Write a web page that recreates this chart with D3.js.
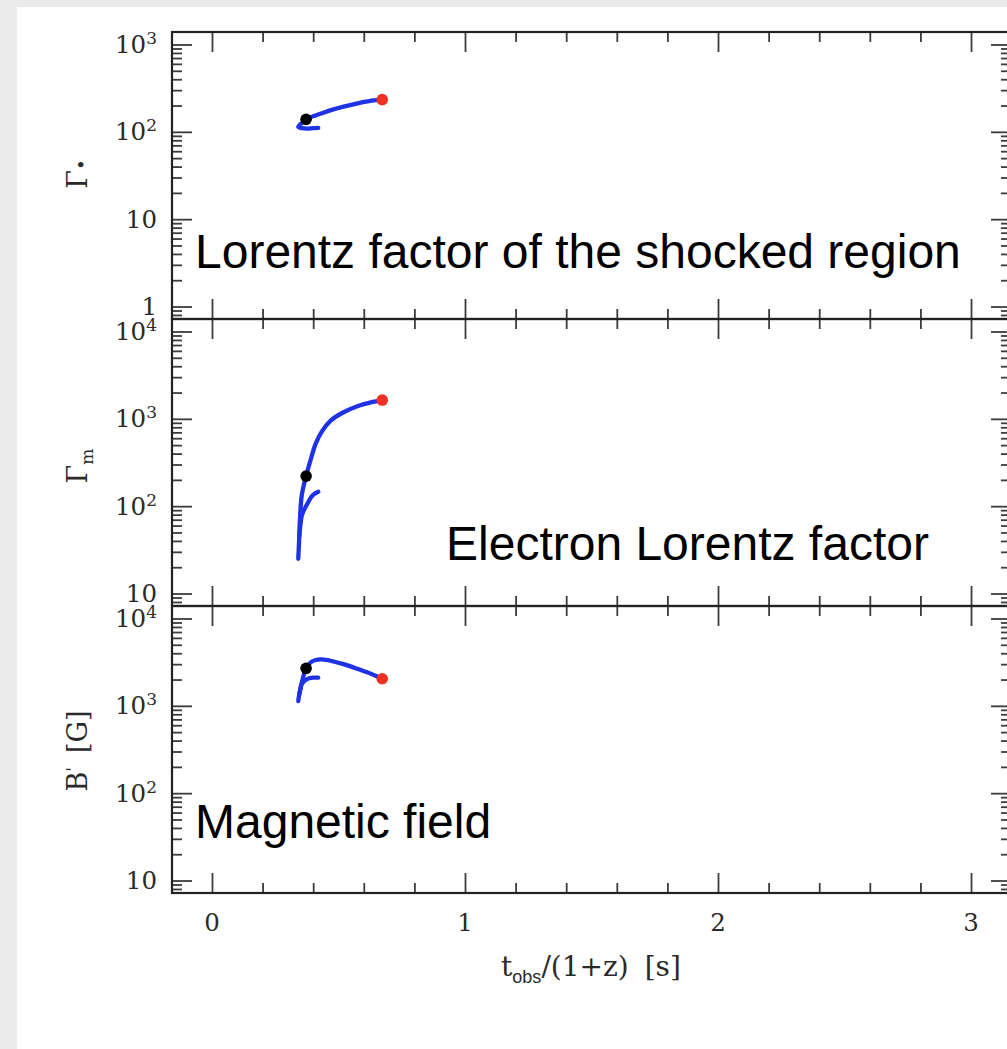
<!DOCTYPE html>
<html>
<head>
<meta charset="utf-8">
<script src="https://cdn.jsdelivr.net/npm/d3@7"></script>
<style>
  html, body { margin: 0; padding: 0; background: #ebebeb; }
  svg { display: block; }
</style>
</head>
<body>
<svg id="chart" width="1007" height="1049"></svg>
<script>
// Observer time t_obs/(1+z) in seconds, shared by the three panels
const tMain = [0.341, 0.344, 0.348, 0.355, 0.372, 0.39, 0.41, 0.434, 0.47, 0.52, 0.58, 0.63, 0.673];
const tHook = [0.345, 0.350, 0.356, 0.374, 0.399, 0.420];

// Lorentz factor of the shocked region
const gammaMain = [114, 117, 121, 126, 139, 147, 154, 163, 177, 194, 213, 227, 234];
const gammaHook = [113, 111, 110, 109, 110, 111];

// Electron Lorentz factor
const gammaMMain = [25, 38.5, 73, 134, 221, 340, 520, 714, 960, 1190, 1415, 1550, 1640];
const gammaMHook = [45, 62, 80, 103, 134, 146];

// Comoving magnetic field [G]
const bMain = [1133, 1300, 1475, 1850, 2685, 3150, 3350, 3405, 3280, 3000, 2620, 2320, 2042];
const bHook = [1350, 1600, 1800, 2007, 2099, 2099];

// index of the black marker along the main branch (last point gets the red one)
const startIndex = 4;

// x ticks
const xMajor = [0, 1, 2, 3];
const xMinor = [0.2, 0.4, 0.6, 0.8, 1.2, 1.4, 1.6, 1.8, 2.2, 2.4, 2.6, 2.8];
const xTickLabels = ["0", "1", "2", "3"];

// y decades per panel and their labels ("base^exp")
const topDecades = [1, 10, 100, 1000];
const topLabels = ["1", "10", "10^2", "10^3"];
const midDecades = [10, 100, 1000, 10000];
const midLabels = ["10", "10^2", "10^3", "10^4"];
const botDecades = [10, 100, 1000, 10000];
const botLabels = ["10", "10^2", "10^3", "10^4"];

const panelNotes = ["Lorentz factor of the shocked region", "Electron Lorentz factor", "Magnetic field"];

const panels = [
  { decades: topDecades, labels: topLabels, main: gammaMain, hook: gammaHook,
    note: panelNotes[0], noteX: 195, noteY: 268 },
  { decades: midDecades, labels: midLabels, main: gammaMMain, hook: gammaMHook,
    note: panelNotes[1], noteX: 446, noteY: 560 },
  { decades: botDecades, labels: botLabels, main: bMain, hook: bHook,
    note: panelNotes[2], noteX: 195, noteY: 838 }
];

// ---- layout ----
const L = 172, R = 1011, T = 32, PH = 287;
const PAD = 0.143;            // decades of padding above/below the labelled range
const TICK_MAJ = 20, TICK_MIN = 10;
const tickColor = "#3c3c3c";
const serif = "'DejaVu Serif', 'Liberation Serif', serif";
const sans = "'Liberation Sans', Arial, Helvetica, sans-serif";
const lineColor = "#1f33e6";

const svg = d3.select("#chart");
svg.append("rect").attr("x", 17).attr("y", 7).attr("width", 990).attr("height", 1042).attr("fill", "#fff");

const x = d3.scaleLinear().domain([-0.158, 3.158]).range([L, R]);

function styleTicks(g) {
  g.select(".domain").remove();
  g.selectAll(".tick line").attr("stroke", tickColor).attr("stroke-width", 1.8);
  g.selectAll(".tick text").remove();
}

function addTickLabel(parent, str, xPos, yPos, anchor) {
  const parts = str.split("^");
  const t = parent.append("text")
    .attr("x", xPos).attr("y", yPos)
    .attr("text-anchor", anchor)
    .attr("font-family", serif).attr("font-size", 24.5).attr("fill", "#2a2a2a");
  t.append("tspan").text(parts[0]);
  if (parts[1]) {
    t.append("tspan").attr("font-size", 17).attr("dy", -9).text(parts[1]);
  }
  return t;
}

panels.forEach((p, i) => {
  const y0 = T + i * PH, y1 = y0 + PH;
  const lo = Math.log10(p.decades[0]) - PAD;
  const hi = Math.log10(p.decades[p.decades.length - 1]) + PAD;
  const y = d3.scaleLog().domain([10 ** lo, 10 ** hi]).range([y1, y0]);

  const isDecade = v => Math.abs(Math.log10(v) - Math.round(Math.log10(v))) < 1e-9;
  const yMinor = y.ticks().filter(v => !isDecade(v));

  const g = svg.append("g");

  // left and right ticks (pointing inwards)
  g.append("g").attr("transform", `translate(${L},0)`)
    .call(d3.axisRight(y).tickValues(yMinor).tickSize(TICK_MIN)).call(styleTicks);
  g.append("g").attr("transform", `translate(${L},0)`)
    .call(d3.axisRight(y).tickValues(p.decades).tickSize(TICK_MAJ)).call(styleTicks);
  g.append("g").attr("transform", `translate(${R},0)`)
    .call(d3.axisLeft(y).tickValues(yMinor).tickSize(TICK_MIN)).call(styleTicks);
  g.append("g").attr("transform", `translate(${R},0)`)
    .call(d3.axisLeft(y).tickValues(p.decades).tickSize(TICK_MAJ)).call(styleTicks);

  // top and bottom ticks of this panel
  g.append("g").attr("transform", `translate(0,${y0})`)
    .call(d3.axisBottom(x).tickValues(xMinor).tickSize(TICK_MIN)).call(styleTicks);
  g.append("g").attr("transform", `translate(0,${y0})`)
    .call(d3.axisBottom(x).tickValues(xMajor).tickSize(TICK_MAJ)).call(styleTicks);
  g.append("g").attr("transform", `translate(0,${y1})`)
    .call(d3.axisTop(x).tickValues(xMinor).tickSize(TICK_MIN)).call(styleTicks);
  g.append("g").attr("transform", `translate(0,${y1})`)
    .call(d3.axisTop(x).tickValues(xMajor).tickSize(TICK_MAJ)).call(styleTicks);

  // frame
  g.append("rect").attr("x", L).attr("y", y0).attr("width", R - L).attr("height", PH)
    .attr("fill", "none").attr("stroke", "#222").attr("stroke-width", 2.2);

  // y tick labels
  p.decades.forEach((v, k) => addTickLabel(g, p.labels[k], 157, y(v) + 8.5, "end"));

  // curves
  const line = d3.line().x(d => x(d[0])).y(d => y(d[1])).curve(d3.curveCatmullRom.alpha(0.5));
  const mainPts = tMain.map((t, k) => [t, p.main[k]]);
  const hookPts = tHook.map((t, k) => [t, p.hook[k]]);
  [mainPts, hookPts].forEach(pts => {
    g.append("path").datum(pts).attr("d", line)
      .attr("fill", "none").attr("stroke", lineColor).attr("stroke-width", 4.3)
      .attr("stroke-linecap", "round").attr("stroke-linejoin", "round");
  });

  // start and end markers
  const markers = [
    { t: tMain[startIndex], v: p.main[startIndex], c: "#000" },
    { t: tMain[tMain.length - 1], v: p.main[p.main.length - 1], c: "#ee3124" }
  ];
  g.selectAll("circle.marker").data(markers).join("circle")
    .attr("class", "marker")
    .attr("cx", d => x(d.t)).attr("cy", d => y(d.v)).attr("r", 5.8).attr("fill", d => d.c);

  // panel annotation
  g.append("text").attr("x", p.noteX).attr("y", p.noteY)
    .attr("font-family", sans).attr("font-size", 48).attr("fill", "#000")
    .text(p.note);
});

// x tick labels
xMajor.forEach((v, k) => {
  svg.append("text").attr("x", x(v)).attr("y", 931).attr("text-anchor", "middle")
    .attr("font-family", serif).attr("font-size", 24.5).attr("fill", "#2a2a2a")
    .text(xTickLabels[k]);
});

// x axis title: t_obs/(1+z) [s]
const xt = svg.append("text").attr("x", 591).attr("y", 976).attr("text-anchor", "middle")
  .attr("font-family", serif).attr("font-size", 28).attr("fill", "#2a2a2a");
xt.append("tspan").text("t");
xt.append("tspan").attr("font-family", sans).attr("font-size", 18).attr("dy", 7).text("obs");
xt.append("tspan").attr("dy", -7).text("/(1+z)");
xt.append("tspan").attr("dx", 16).text("[s]");

// y axis titles (rotated)
function yTitle(cy, build) {
  const t = svg.append("text")
    .attr("transform", `translate(87,${cy}) rotate(-90)`)
    .attr("text-anchor", "middle")
    .attr("font-family", serif).attr("font-size", 27).attr("fill", "#2a2a2a");
  build(t);
}
yTitle(174, t => {
  t.append("tspan").text("Γ");
  t.append("tspan").attr("font-size", 18).attr("dy", 1).text("•");
});
yTitle(466, t => {
  t.append("tspan").text("Γ");
  t.append("tspan").attr("font-size", 17).attr("dy", 6).text("m");
});
yTitle(751, t => {
  t.append("tspan").text("B");
  t.append("tspan").attr("font-size", 17).attr("dy", -9).text("'");
  t.append("tspan").attr("dy", 9).attr("dx", 14).text("[G]");
});
</script>
</body>
</html>
